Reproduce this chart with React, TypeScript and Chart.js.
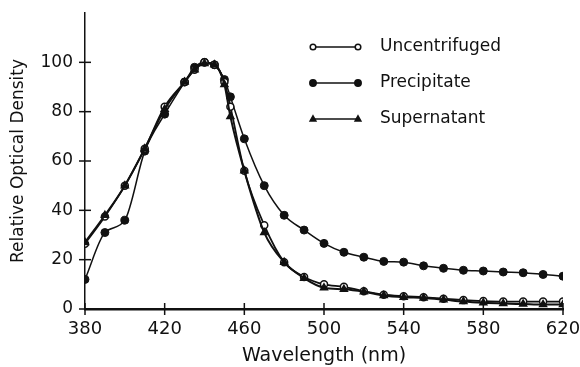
import React, { useEffect, useRef } from 'react';
import { Chart, registerables } from 'chart.js';
Chart.register(...registerables);

const wavelengths = [380, 390, 400, 410, 420, 430, 435, 440, 445, 450, 453, 460, 470, 480, 490, 500, 510, 520, 530, 540, 550, 560, 570, 580, 590, 600, 610, 620];
const uncentrifuged = [26.5, 37.5, 50, 65, 82, 92, 97, 100, 99, 92, 82, 56, 34, 19, 13, 10, 9, 7.2, 5.8, 5.2, 4.8, 4.2, 3.6, 3.2, 3, 3, 3, 3];
const precipitate = [12, 31, 36, 64, 79, 92, 98, 100, 99, 93, 86, 69, 50, 38, 32, 26.6, 23, 21, 19.3, 19, 17.5, 16.5, 15.7, 15.4, 15, 14.7, 14, 13.3];
const supernatant = [27, 38, 50, 65, 81, 92, 97, 99.5, 99, 91, 78, 56, 31, 19, 12.5, 8.6, 8, 7, 5.5, 4.8, 4.5, 3.8, 3, 2.5, 2.2, 2, 1.8, 1.8];
const seriesLabels = ['Uncentrifuged', 'Precipitate', 'Supernatant'];
const xTicks = [380, 420, 460, 500, 540, 580, 620];
const yTicks = [0, 20, 40, 60, 80, 100];

const FONT = "'DejaVu Sans', sans-serif";
const INK = '#111';

const toPoints = (ys: number[]) => wavelengths.map((x, i) => ({ x, y: ys[i] }));

function drawMarker(ctx: CanvasRenderingContext2D, style: string, x: number, y: number, r: number, fill: string) {
  ctx.beginPath();
  if (style === 'triangle') {
    ctx.moveTo(x, y - r);
    ctx.lineTo(x + r * 0.9, y + r * 0.6);
    ctx.lineTo(x - r * 0.9, y + r * 0.6);
    ctx.closePath();
  } else {
    ctx.arc(x, y, r, 0, Math.PI * 2);
  }
  ctx.fillStyle = fill;
  ctx.fill();
  ctx.stroke();
}

const crossTicks = {
  id: 'crossTicks',
  afterDraw(chart: any) {
    const { ctx, chartArea, scales } = chart;
    ctx.save();
    ctx.strokeStyle = INK;
    ctx.lineWidth = 1.5;
    xTicks.forEach((v) => {
      const px = scales.x.getPixelForValue(v);
      ctx.beginPath();
      ctx.moveTo(px, chartArea.bottom - 6);
      ctx.lineTo(px, chartArea.bottom + 6);
      ctx.stroke();
    });
    yTicks.forEach((v) => {
      const py = scales.y.getPixelForValue(v);
      ctx.beginPath();
      ctx.moveTo(chartArea.left - 6, py);
      ctx.lineTo(chartArea.left + 6, py);
      ctx.stroke();
    });
    ctx.restore();
  },
};

const customLegend = {
  id: 'customLegend',
  afterDraw(chart: any) {
    const { ctx, chartArea } = chart;
    const x0 = chartArea.left + 228;
    const x1 = chartArea.left + 273;
    const tx = chartArea.left + 295;
    ctx.save();
    chart.data.datasets.forEach((ds: any, i: number) => {
      const y = chartArea.top + 34 + i * 36;
      ctx.strokeStyle = INK;
      ctx.lineWidth = 1.5;
      ctx.beginPath();
      ctx.moveTo(x0, y);
      ctx.lineTo(x1, y);
      ctx.stroke();
      const r = ds.pointStyle === 'circle' && ds.pointBackgroundColor === '#fff' ? 2.8 : 3.2;
      drawMarker(ctx, ds.pointStyle, x0, y, r, ds.pointBackgroundColor);
      drawMarker(ctx, ds.pointStyle, x1, y, r, ds.pointBackgroundColor);
      ctx.fillStyle = INK;
      ctx.font = `17px ${FONT}`;
      ctx.textBaseline = 'middle';
      ctx.textAlign = 'left';
      ctx.fillText(ds.label, tx, y);
    });
    ctx.restore();
  },
};

export default function App() {
  const ref = useRef<HTMLCanvasElement>(null);
  useEffect(() => {
    document.body.style.margin = '0';
    const chart = new Chart(ref.current!, {
      type: 'line',
      data: {
        datasets: [
          {
            label: seriesLabels[0],
            data: toPoints(uncentrifuged),
            borderColor: INK,
            borderWidth: 1.8,
            pointStyle: 'circle',
            pointRadius: 3.5,
            pointBorderWidth: 1.5,
            pointBorderColor: INK,
            pointBackgroundColor: '#fff',
            cubicInterpolationMode: 'monotone',
            order: 1,
          },
          {
            label: seriesLabels[1],
            data: toPoints(precipitate),
            borderColor: INK,
            borderWidth: 1.5,
            pointStyle: 'circle',
            pointRadius: 4,
            pointBorderWidth: 1,
            pointBorderColor: INK,
            pointBackgroundColor: INK,
            cubicInterpolationMode: 'monotone',
            order: 2,
          },
          {
            label: seriesLabels[2],
            data: toPoints(supernatant),
            borderColor: INK,
            borderWidth: 2,
            pointStyle: 'triangle',
            pointRadius: 4,
            pointBorderWidth: 1.5,
            pointBorderColor: INK,
            pointBackgroundColor: INK,
            cubicInterpolationMode: 'monotone',
            order: 0,
          },
        ],
      },
      options: {
        responsive: false,
        animation: false,
        layout: { padding: { left: 0, right: 17, top: 13, bottom: 0 } },
        plugins: { legend: { display: false }, tooltip: { enabled: false } },
        scales: {
          x: {
            type: 'linear',
            min: 380,
            max: 620,
            afterBuildTicks: (s: any) => { s.ticks = xTicks.map((v) => ({ value: v })); },
            afterFit: (s: any) => { s.height = 58; s.paddingLeft = 0; s.paddingRight = 0; },
            grid: { display: false, drawTicks: false },
            border: { display: true, color: INK, width: 2.5 },
            ticks: { color: INK, font: { family: FONT, size: 18 }, padding: 10, maxRotation: 0 },
            title: { display: true, text: 'Wavelength (nm)', color: INK, font: { family: FONT, size: 19 }, padding: { top: 0, bottom: 0 } },
          },
          y: {
            type: 'linear',
            min: 0,
            max: 120,
            afterBuildTicks: (s: any) => { s.ticks = yTicks.concat([120]).map((v) => ({ value: v })); },
            afterFit: (s: any) => { s.width = 85; s.paddingTop = 0; s.paddingBottom = 0; },
            grid: { display: false, drawTicks: false },
            border: { display: true, color: INK, width: 1.5 },
            ticks: { color: INK, font: { family: FONT, size: 17 }, padding: 12, callback: (v: any) => (v === 120 ? '' : String(v)) },
            title: { display: true, text: 'Relative Optical Density', color: INK, font: { family: FONT, size: 17 }, padding: { top: 8, bottom: 0 } },
          },
        },
      },
      plugins: [crossTicks, customLegend],
    });
    return () => chart.destroy();
  }, []);
  return (
    <div style={{ width: 580, height: 367, background: '#fff' }}>
      <canvas ref={ref} width={580} height={367} />
    </div>
  );
}
